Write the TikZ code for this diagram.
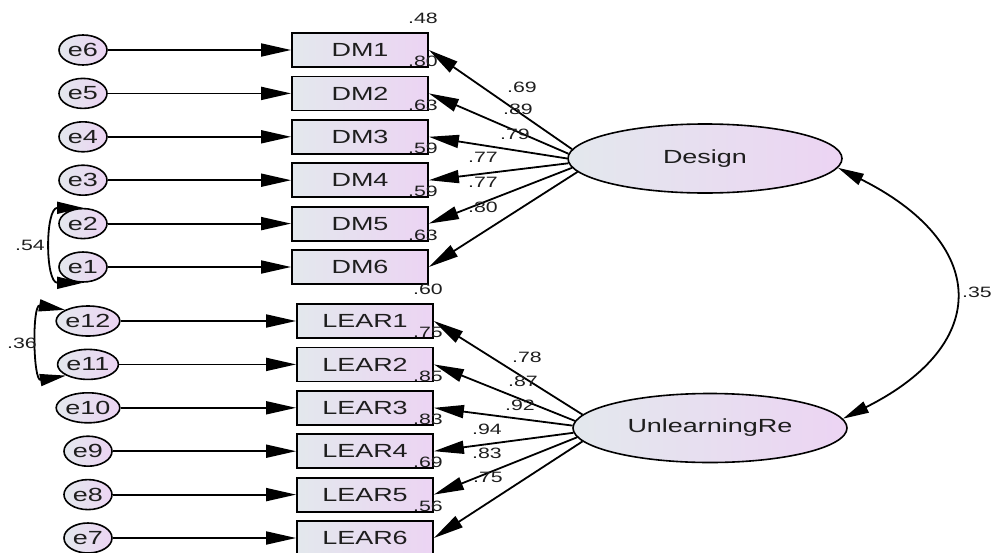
\documentclass[tikz,border=0pt]{standalone}
\usepackage{fontspec}
\setmainfont{Liberation Sans}[FakeStretch=1.42]
\usetikzlibrary{shapes.geometric, arrows.meta}

\definecolor{fillL}{RGB}{227,232,237}
\definecolor{fillR}{RGB}{236,212,243}
\definecolor{ink}{RGB}{30,30,30}

\tikzset{
  obs/.style={draw, line width=1.8pt, rectangle, minimum width=136pt, minimum height=34pt,
    left color=fillL, right color=fillR, text=ink, font=\fontsize{19}{21}\selectfont},
  err/.style={draw, line width=1.6pt, ellipse, minimum width=48pt, minimum height=30pt, inner sep=0pt,
    left color=fillL, right color=fillR, text=ink, font=\fontsize{19}{21}\selectfont},
  lat/.style={draw, line width=1.6pt, ellipse, minimum width=274pt, minimum height=69pt,
    left color=fillL, right color=fillR, text=ink, font=\fontsize{19}{21}\selectfont},
  num/.style={inner sep=0pt, text=ink, font=\fontsize{15}{17}\selectfont},
  reg/.style={line width=1.8pt, -{Triangle[length=30pt,width=13pt]}},
  cov/.style={line width=1.8pt, {Triangle[length=26pt,width=12pt]}-{Triangle[length=26pt,width=12pt]}}
}

\begin{document}
\begin{tikzpicture}[x=1pt, y=-1pt]
  \useasboundingbox (0,0) rectangle (991,552);

  % latent factors
  \node[lat] (design)  at (705,158.5) {Design};
  \node[lat] (unlearn) at (710,428) {UnlearningRe};

  % indicators and their error terms
  \foreach \i [evaluate=\i as \y using 50+(\i-1)*43.4, evaluate=\i as \k using int(7-\i)] in {1,...,6} {
    \node[obs] (dm\i) at (360,\y) {DM\i};
    \node[err] (e\k) at (83,\y) {e\k};
    \draw[reg] (e\k) -- (dm\i);
  }
  \foreach \i [evaluate=\i as \y using 321+(\i-1)*43.4, evaluate=\i as \k using int(13-\i)] in {1,...,6} {
    \node[obs] (lear\i) at (365,\y) {LEAR\i};
    \node[err] (e\k) at (88,\y) {e\k};
    \draw[reg] (e\k) -- (lear\i);
  }

  % factor loadings
  \foreach \i/\a in {1/176, 2/178, 3/180, 4/182, 5/184, 6/186}
    \draw[reg] (design.\a) -- (dm\i.east);
  \foreach \i/\a in {1/174, 2/177, 3/179, 4/182, 5/184, 6/186}
    \draw[reg] (unlearn.\a) -- (lear\i.east);

  \foreach \v/\x/\y [count=\n] in {.69/522/87, .89/518/109, .79/515/134,
                                   .77/483/157, .77/483/182, .80/483/207}
    \node[num] (ld\n) at (\x,\y) {\v};
  \foreach \v/\x/\y [count=\n] in {.78/527/357, .87/523/381, .92/520/405,
                                   .94/487/429, .83/487/453, .75/488/477}
    \node[num] (ll\n) at (\x,\y) {\v};

  % squared multiple correlations
  \foreach \i/\v in {1/.48, 2/.80, 3/.63, 4/.59, 5/.59, 6/.63}
    \node[num] (rd\i) at ([shift={(-6,-14)}]dm\i.north east) {\v};
  \foreach \i/\v in {1/.60, 2/.75, 3/.85, 4/.83, 5/.69, 6/.56}
    \node[num] (rl\i) at ([shift={(-6,-14)}]lear\i.north east) {\v};

  % correlated errors
  \draw[cov] (e2.north) to[out=180, in=180, looseness=1.3] (e1.south);
  \node[num] (c21) at (30,245) {.54};
  \draw[cov] (e12.north west) to[out=170, in=190, looseness=1.3] (e11.south west);
  \node[num] (c1211) at (22,343) {.36};

  % factor covariance
  \draw[cov] (design.-4) .. controls +(150,75) and +(150,-75) .. (unlearn.4);
  \node[num] (cf) at (977,292) {.35};
\end{tikzpicture}
\end{document}
